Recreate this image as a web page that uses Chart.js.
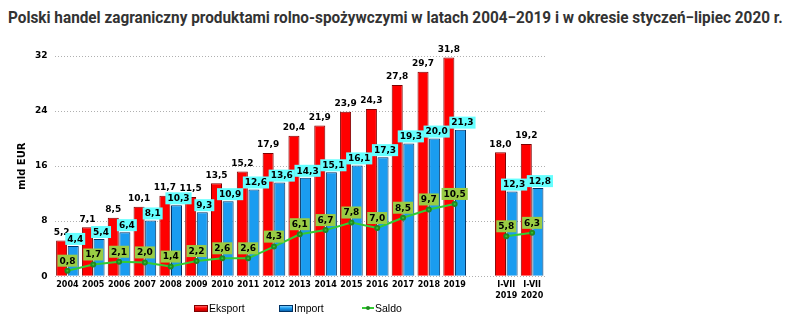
<!DOCTYPE html>
<html>
<head>
<meta charset="utf-8">
<script src="https://cdn.jsdelivr.net/npm/chart.js@4.4.1/dist/chart.umd.min.js"></script>
<style>
  body { margin: 0; background: #fff; width: 800px; height: 335px; overflow: hidden; position: relative; }
  #title { position: absolute; left: 8px; top: 8px; font-family: Roboto, sans-serif; font-weight: 700; font-size: 16px; color: #333; white-space: nowrap; transform-origin: left top; }
  #box { position: absolute; left: 0; top: 35px; width: 580px; height: 270px; }
  .lg { position: absolute; top: 302px; height: 12px; display: flex; align-items: center; font-family: "Liberation Sans", sans-serif; font-size: 10.5px; color: #000; }
  .sw { width: 12px; height: 5px; border: 1px solid; margin-right: 1px; }
  .ln { width: 12px; height: 2px; background: #33cc33; margin-right: 1px; position: relative; }
  .ln:after { content: ''; position: absolute; left: 4px; top: -1px; width: 4px; height: 4px; background: #228822; border-radius: 2px; }
</style>
</head>
<body>
<div id="title">Polski handel zagraniczny produktami rolno-spożywczymi w latach 2004−2019 i w okresie styczeń−lipiec 2020 r.</div>
<div id="box"><canvas id="chart"></canvas></div>
<div class="lg" style="left:194px"><span class="sw" style="background:linear-gradient(#ff6060,#ff0000 45%,#c00000);border-color:#800000"></span>Eksport</div>
<div class="lg" style="left:279px"><span class="sw" style="background:linear-gradient(#7fd0ff,#1a9cf0 45%,#0b64b0);border-color:#003366"></span>Import</div>
<div class="lg" style="left:362px"><span class="ln"></span>Saldo</div>
<script>
var labels = ['2004', '2005', '2006', '2007', '2008', '2009', '2010', '2011', '2012', '2013', '2014', '2015', '2016', '2017', '2018', '2019', '', ['I-VII', '2019'], ['I-VII', '2020']];
var eksport = [5.2, 7.1, 8.5, 10.1, 11.7, 11.5, 13.5, 15.2, 17.9, 20.4, 21.9, 23.9, 24.3, 27.8, 29.7, 31.8, null, 18.0, 19.2];
var imports = [4.4, 5.4, 6.4, 8.1, 10.3, 9.3, 10.9, 12.6, 13.6, 14.3, 15.1, 16.1, 17.3, 19.3, 20.0, 21.3, null, 12.3, 12.8];
var saldo = [0.8, 1.7, 2.1, 2.0, 1.4, 2.2, 2.6, 2.6, 4.3, 6.1, 6.7, 7.8, 7.0, 8.5, 9.7, 10.5, null, 5.8, 6.3];
var yTicks = [0, 8, 16, 24, 32];

// fit title to its width in the original
var t = document.getElementById('title');
t.style.transform = 'scaleX(' + (775 / t.offsetWidth) + ')';

function fmt(v) { return v.toFixed(1).replace('.', ','); }

function barGradient(ctx, light, mid, dark) {
    var el = ctx.element;
    if (!el || !el.width) return mid;
    var g = ctx.chart.ctx.createLinearGradient(el.x - el.width / 2, 0, el.x + el.width / 2, 0);
    g.addColorStop(0, light);
    g.addColorStop(0.35, mid);
    g.addColorStop(1, dark);
    return g;
}

var valueLabels = {
    id: 'valueLabels',
    afterDatasetsDraw: function(chart) {
        var ctx = chart.ctx;
        ctx.save();
        ctx.font = 'bold 9px "DejaVu Sans"';
        ctx.textAlign = 'center';
        ctx.textBaseline = 'middle';
        chart.data.datasets.forEach(function(ds, i) {
            var meta = chart.getDatasetMeta(i);
            meta.data.forEach(function(el, j) {
                var v = ds.data[j];
                if (v === null) return;
                var s = fmt(v);
                var w = ctx.measureText(s).width + 4;
                var x = el.x, y;
                if (i === 0) {
                    y = el.y - 8;
                    ctx.fillStyle = '#000';
                    ctx.fillText(s, x, y);
                    return;
                }
                if (i === 1) { x = el.x + 2; y = el.y - 7; ctx.fillStyle = '#66ffff'; }
                else { y = el.y - 10; ctx.fillStyle = '#99cc44'; }
                ctx.fillRect(x - w / 2, y - 6, w, 12);
                ctx.fillStyle = '#000';
                ctx.fillText(s, x, y + 0.5);
            });
        });
        ctx.restore();
    }
};

new Chart(document.getElementById('chart'), {
    type: 'bar',
    data: {
        labels: labels,
        datasets: [{
            label: 'Eksport',
            data: eksport,
            backgroundColor: function(c) { return barGradient(c, '#ff5050', '#ff0000', '#c00000'); },
            borderColor: '#800000',
            borderWidth: 1,
            categoryPercentage: 0.9,
            barPercentage: 0.95,
            order: 2
        }, {
            label: 'Import',
            data: imports,
            backgroundColor: function(c) { return barGradient(c, '#5cc0ff', '#1a9cf0', '#0b64b0'); },
            borderColor: '#003366',
            borderWidth: 1,
            categoryPercentage: 0.9,
            barPercentage: 0.95,
            order: 2
        }, {
            type: 'line',
            label: 'Saldo',
            data: saldo,
            borderColor: '#33cc33',
            backgroundColor: '#33cc33',
            borderWidth: 2,
            pointRadius: 2,
            pointBorderColor: '#228822',
            pointBackgroundColor: '#33cc33',
            spanGaps: false,
            order: 1
        }]
    },
    options: {
        responsive: true,
        maintainAspectRatio: false,
        animation: false,
        layout: { padding: { top: 21, right: 35, left: 8, bottom: 0 } },
        scales: {
            x: {
                grid: { display: false, drawTicks: false },
                border: { display: false },
                ticks: { font: { family: 'DejaVu Sans', size: 8, weight: 'bold', lineHeight: 1.3 }, color: '#000', maxRotation: 0, autoSkip: false, padding: 4 }
            },
            y: {
                min: 0,
                max: 32,
                afterBuildTicks: function(axis) { axis.ticks = yTicks.map(function(v) { return { value: v }; }); },
                grid: { color: '#b0b0b0', lineWidth: 1, drawTicks: false },
                border: { display: false, dash: [1, 2] },
                ticks: { font: { family: 'DejaVu Sans', size: 9, weight: 'bold' }, color: '#000', padding: 7 },
                title: { display: true, text: 'mld EUR', font: { family: 'DejaVu Sans', size: 10, weight: 'bold' }, color: '#000', padding: { top: 8, bottom: 0 } }
            }
        },
        plugins: {
            legend: { display: false },
            tooltip: { enabled: false }
        }
    },
    plugins: [valueLabels]
});
</script>
</body>
</html>
